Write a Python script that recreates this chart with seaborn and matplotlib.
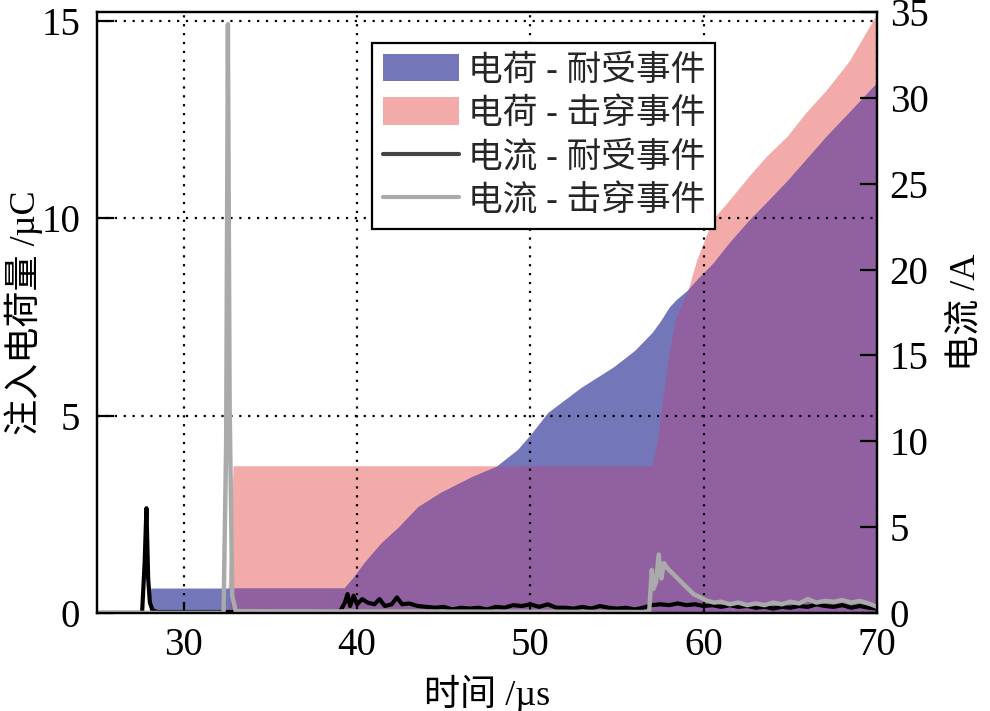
import numpy as np
import matplotlib
matplotlib.use("Agg")
import matplotlib.pyplot as plt
import seaborn as sns
from matplotlib.patches import Patch
from matplotlib.lines import Line2D

# ---------------- data ----------------
# common time grid for the injected-charge curves (µs)
t_q = [25.0, 28.0, 28.1, 32.5, 32.85, 39.25, 39.8, 40.4, 41.4, 42.4, 43.5, 44.8,
       46.6, 48.0, 49.25, 50.0, 51.0, 52.9, 54.8, 56.0, 57.0, 57.3, 57.5, 58.0,
       58.4, 59.1, 59.6, 60.5, 61.5, 62.6, 63.6, 64.8, 65.9, 67.1, 68.4, 70.0]
# charge, withstand event (µC)
q_withstand = [0.0, 0.0, 0.63, 0.63, 0.63, 0.63, 0.91, 1.27, 1.78, 2.18, 2.69, 3.05,
               3.45, 3.71, 4.14, 4.52, 5.08, 5.71, 6.24, 6.65, 7.10, 7.28, 7.40, 7.75,
               7.94, 8.20, 8.45, 8.85, 9.40, 9.95, 10.40, 10.95, 11.50, 12.10, 12.70, 13.45]
# charge, breakdown event (µC)
q_breakdown = [0.0, 0.0, 0.0, 0.0, 3.73, 3.73, 3.73, 3.73, 3.73, 3.73, 3.73, 3.73,
               3.73, 3.73, 3.73, 3.73, 3.73, 3.73, 3.73, 3.73, 3.73, 4.30, 5.00, 6.60,
               7.50, 8.20, 8.96, 9.97, 10.48, 11.07, 11.57, 12.08, 12.69, 13.27, 14.00, 15.20]

# current, withstand event (A)
t_i_withstand = [25.0, 27.6, 27.75, 27.85, 27.95, 28.05, 28.2, 28.5, 39.0, 39.3, 39.45,
                 39.6, 39.8, 40.0, 40.3, 40.6, 41.0, 41.3, 41.6, 42.0, 42.3, 42.6, 43.0,
                 43.5, 44.0, 44.5, 45.0, 45.5, 46.0, 46.5, 47.0, 47.5, 48.0, 48.5, 49.0,
                 49.5, 50.0, 50.5, 51.0, 51.5, 52.0, 52.5, 53.0, 53.5, 54.0, 54.5, 55.0,
                 55.5, 56.0, 56.5, 57.0, 57.5, 58.0, 58.5, 59.0, 59.5, 60.0, 60.5, 61.0,
                 61.5, 62.0, 62.5, 63.0, 63.5, 64.0, 64.5, 65.0, 65.5, 66.0, 66.5, 67.0,
                 67.5, 68.0, 68.5, 69.0, 69.5, 70.0]
i_withstand = [0.0, 0.0, 3.0, 6.1, 2.0, 0.6, 0.15, 0.05, 0.05, 0.6, 1.1,
               0.4, 1.0, 0.5, 0.8, 0.6, 0.5, 0.8, 0.4, 0.5, 0.9, 0.5, 0.55,
               0.4, 0.35, 0.3, 0.35, 0.2, 0.3, 0.25, 0.3, 0.2, 0.35, 0.3, 0.45,
               0.4, 0.5, 0.35, 0.5, 0.3, 0.3, 0.25, 0.35, 0.25, 0.4, 0.3, 0.25,
               0.3, 0.2, 0.3, 0.45, 0.5, 0.45, 0.55, 0.45, 0.5, 0.4, 0.45, 0.35,
               0.45, 0.35, 0.4, 0.3, 0.35, 0.25, 0.35, 0.3, 0.4, 0.35, 0.5, 0.4,
               0.35, 0.45, 0.3, 0.4, 0.3, 0.25]

# current, breakdown event (A)
t_i_breakdown = [25.0, 32.3, 32.45, 32.55, 32.65, 32.8, 33.0, 56.85, 57.0, 57.1, 57.25,
                 57.4, 57.55, 57.7, 57.9, 58.2, 58.5, 58.8, 59.1, 59.4, 59.8, 60.2,
                 60.6, 61.0, 61.5, 62.0, 62.5, 63.0, 63.5, 64.0, 64.5, 65.0, 65.5,
                 66.0, 66.5, 67.0, 67.5, 68.0, 68.5, 69.0, 69.5, 70.0]
i_breakdown = [0.0, 0.0, 10.0, 34.3, 12.0, 1.0, 0.1, 0.05, 2.5, 1.4, 1.8,
               3.4, 2.0, 2.9, 2.6, 2.3, 2.0, 1.7, 1.4, 1.1, 0.9, 0.7,
               0.6, 0.65, 0.5, 0.6, 0.45, 0.55, 0.45, 0.6, 0.5, 0.65, 0.55,
               0.8, 0.6, 0.7, 0.65, 0.75, 0.6, 0.7, 0.55, 0.35]

legend_labels = ["电荷 - 耐受事件", "电荷 - 击穿事件", "电流 - 耐受事件", "电流 - 击穿事件"]
x_ticks = [30, 40, 50, 60, 70]
q_ticks = [0, 5, 10, 15]
i_ticks = [0, 5, 10, 15, 20, 25, 30, 35]

# ---------------- style ----------------
sns.set_theme(style="ticks")
FAM = ["Liberation Serif", "Noto Sans CJK SC", "DejaVu Sans"]
plt.rcParams["font.family"] = FAM
plt.rcParams["axes.unicode_minus"] = False

c_blue = "#7377B9"
c_pink = "#F2ABA8"
c_purple = "#9160A0"

fig = plt.figure(figsize=(9.9, 7.11), dpi=100)
ax = fig.add_axes([0.098, 0.138, 0.788, 0.845])
ax2 = ax.twinx()

tq = np.array(t_q)
qw = np.array(q_withstand)
qb = np.array(q_breakdown)
ax.fill_between(tq, 0, qb, color=c_pink, lw=0, zorder=1)
ax.fill_between(tq, 0, qw, color=c_blue, lw=0, zorder=1.1)
ax.fill_between(tq, 0, np.minimum(qw, qb), color=c_purple, lw=0, zorder=1.2)

sns.lineplot(x=t_i_withstand, y=i_withstand, ax=ax2, color="black", lw=3.0,
             estimator=None, sort=False, legend=False)
sns.lineplot(x=t_i_breakdown, y=i_breakdown, ax=ax2, color="#AAAAAA", lw=3.2,
             estimator=None, sort=False, legend=False)

ax.set_xlim(25, 70)
ax.set_ylim(0, 15.23)
ax2.set_ylim(0, 35)
ax.set_xticks(x_ticks)
ax.set_yticks(q_ticks)
ax2.set_yticks(i_ticks)

ax.set_axisbelow(False)
ax.grid(True, color="black", linestyle=(0, (1, 3)), linewidth=1.6, zorder=2)
ax2.grid(False)

for a in (ax, ax2):
    for s in a.spines.values():
        s.set_linewidth(1.6)
        s.set_color("black")
        s.set_visible(True)

ax.tick_params(axis="y", direction="in", length=12, width=1.6, labelsize=28, pad=12,
               colors="black", right=False)
ax.tick_params(axis="x", direction="in", length=8, width=1.6, labelsize=28, pad=10,
               colors="black", top=False)
ax2.tick_params(axis="y", direction="in", length=12, width=1.6, labelsize=28, pad=9,
                colors="black")

ax.set_xlabel("时间 /µs", fontsize=26, family=FAM, color="black")
ax.set_ylabel("注入电荷量 /µC", fontsize=26, family=FAM, color="black")
ax2.set_ylabel("电流 /A", fontsize=26, family=FAM, color="black")
ax.xaxis.set_label_coords(0.5, -0.103)
ax.yaxis.set_label_coords(-0.069, 0.5)
ax2.yaxis.set_label_coords(1.092, 0.5)

for lab in ax.get_xticklabels() + ax.get_yticklabels() + ax2.get_yticklabels():
    lab.set_family(FAM)

handles = [Patch(facecolor=c_blue, edgecolor="none"),
           Patch(facecolor=c_pink, edgecolor="none"),
           Line2D([0], [0], color="#444444", lw=3),
           Line2D([0], [0], color="#AAAAAA", lw=3)]
leg = ax2.legend(handles, legend_labels, loc="upper left",
                 bbox_to_anchor=(0.3526, 0.948), frameon=True, fancybox=False,
                 prop={"family": FAM, "size": 25}, handlelength=2.2, handleheight=0.85,
                 handletextpad=0.25, labelspacing=0.28, borderpad=0.3,
                 borderaxespad=0.0)
leg.get_frame().set_edgecolor("black")
leg.get_frame().set_linewidth(1.6)
leg.get_frame().set_alpha(1)

fig.savefig("out.png", dpi=100)
